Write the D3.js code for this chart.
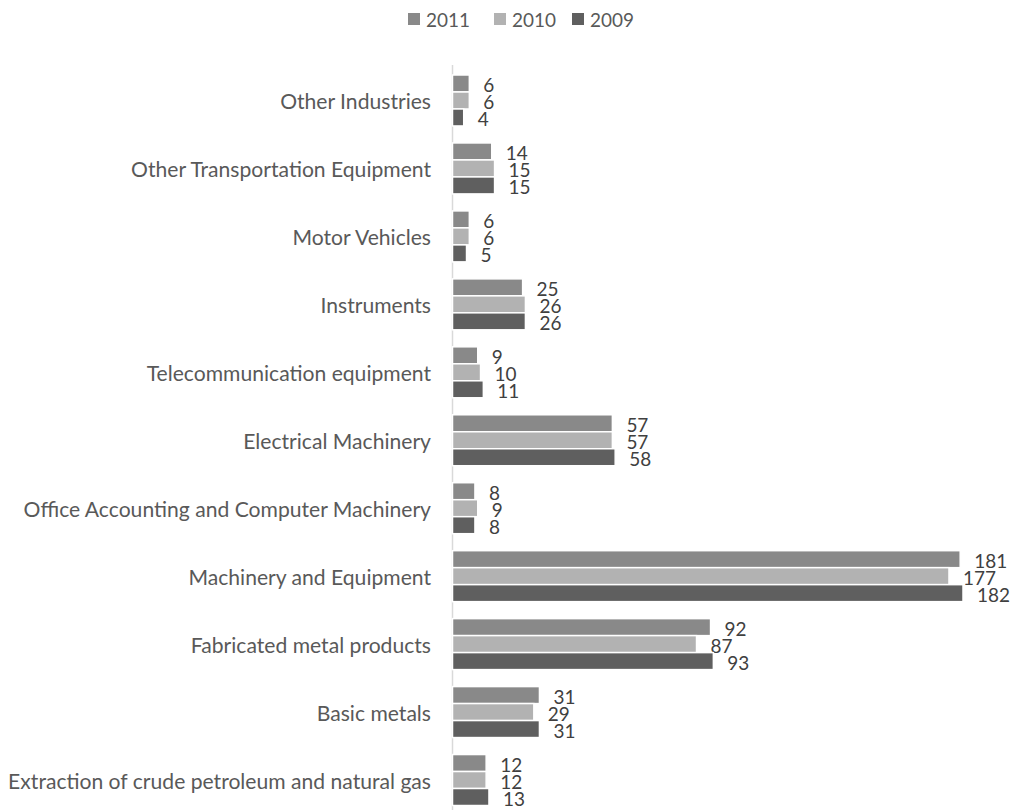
<!DOCTYPE html>
<html>
<head>
<meta charset="utf-8">
<script src="https://cdn.jsdelivr.net/npm/d3@7"></script>
<style>
  html, body { margin: 0; padding: 0; background: #fff; }
  svg { display: block; font-family: "Lato", "Open Sans", sans-serif; }
</style>
</head>
<body>
<svg id="chart" width="1017" height="810"></svg>
<script>
const categories = [
  "Other Industries",
  "Other Transportation Equipment",
  "Motor Vehicles",
  "Instruments",
  "Telecommunication equipment",
  "Electrical Machinery",
  "Office Accounting and Computer Machinery",
  "Machinery and Equipment",
  "Fabricated metal products",
  "Basic metals",
  "Extraction of crude petroleum and natural gas"
];
const seriesNames = ["2011", "2010", "2009"];
const values2011 = [6, 14, 6, 25, 9, 57, 8, 181, 92, 31, 12];
const values2010 = [6, 15, 6, 26, 10, 57, 9, 177, 87, 29, 12];
const values2009 = [4, 15, 5, 26, 11, 58, 8, 182, 93, 31, 13];
const seriesColors = ["#898989", "#b2b2b2", "#5f5f5f"];

const seriesValues = [values2011, values2010, values2009];
const svg = d3.select("#chart");

// measure helper to match reference text widths
function fitSize(str, target) {
  const t = svg.append("text").attr("font-size", 20).text(str);
  const w = t.node().getComputedTextLength();
  t.remove();
  return 20 * target / w;
}
const catSize = fitSize("Extraction of crude petroleum and natural gas", 423);
const numSize = fitSize("2009", 44);

const x0 = 452.5;
const x = d3.scaleLinear().domain([0, 182]).range([x0, 963]);
const y = d3.scaleBand().domain(categories).range([66.5, 814])
  .paddingInner(0.25).paddingOuter(0.125);
const yInner = d3.scaleBand().domain(seriesNames).range([0, y.bandwidth()]).padding(0);

// axis line
svg.append("line")
  .attr("x1", x0).attr("x2", x0)
  .attr("y1", 65).attr("y2", 810)
  .attr("stroke", "#d9d9d9").attr("stroke-width", 1.5);

// category labels
svg.append("g").selectAll("text").data(categories).join("text")
  .attr("x", 431)
  .attr("y", d => y(d) + y.bandwidth() / 2)
  .attr("text-anchor", "end")
  .attr("dominant-baseline", "central")
  .attr("font-size", catSize)
  .attr("fill", "#595959")
  .text(d => d);

// bars
const groups = svg.append("g").selectAll("g").data(seriesNames).join("g");
groups.each(function(s, si) {
  const g = d3.select(this);
  const vals = seriesValues[si];
  g.selectAll("rect").data(categories).join("rect")
    .attr("x", x(0))
    .attr("y", (c) => y(c) + yInner(s))
    .attr("width", (c, i) => x(vals[i]) - x(0))
    .attr("height", yInner.bandwidth())
    .attr("fill", seriesColors[si])
    .attr("stroke", "#fff")
    .attr("stroke-width", 1.5);
  g.selectAll("text").data(categories).join("text")
    .attr("x", (c, i) => x(vals[i]) + 14)
    .attr("y", (c) => y(c) + yInner(s) + yInner.bandwidth() / 2 + 1)
    .attr("dominant-baseline", "central")
    .attr("font-size", numSize)
    .attr("fill", "#404040")
    .text((c, i) => vals[i]);
});

// legend
const legendX = [408, 494, 572];
const legend = svg.append("g").selectAll("g").data(seriesNames).join("g")
  .attr("transform", (d, i) => `translate(${legendX[i]},0)`);
legend.append("rect")
  .attr("x", 0).attr("y", 13).attr("width", 12).attr("height", 12)
  .attr("fill", (d, i) => seriesColors[i]);
legend.append("text")
  .attr("x", 18).attr("y", 19)
  .attr("dominant-baseline", "central")
  .attr("font-size", numSize)
  .attr("fill", "#595959")
  .text(d => d);
</script>
</body>
</html>
